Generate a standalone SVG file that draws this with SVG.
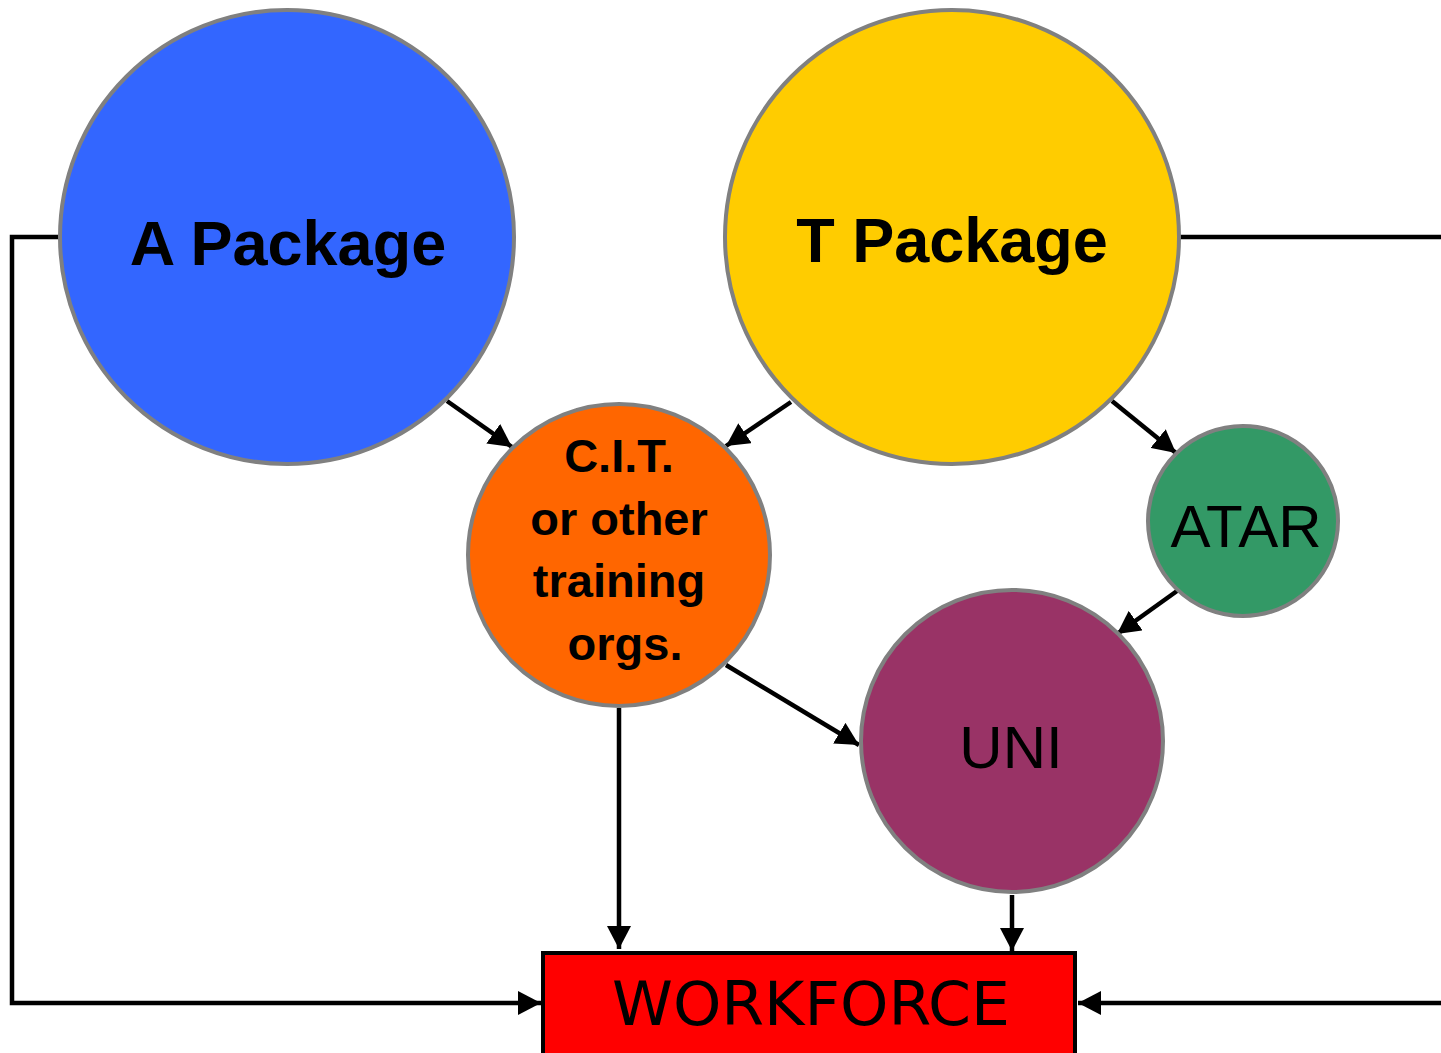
<svg xmlns="http://www.w3.org/2000/svg" width="1441" height="1053" viewBox="0 0 1441 1053">
<defs>
<marker id="ah" markerUnits="userSpaceOnUse" markerWidth="24" markerHeight="24" refX="23" refY="12" orient="auto">
<path d="M0,0 L23,12 L0,24 z" fill="#000"/>
</marker>
<style>
.node{stroke:#808080;stroke-width:4}
.edge{stroke:#000;stroke-width:4.5;fill:none}
.arr{marker-end:url(#ah)}
.big{font-family:"Liberation Sans",Arial,sans-serif;font-weight:bold;font-size:63px;text-anchor:middle;fill:#000}
.mid{font-family:"Liberation Sans",Arial,sans-serif;font-weight:bold;font-size:47px;text-anchor:middle;fill:#000}
.reg{font-family:"Liberation Sans",Arial,sans-serif;font-size:60px;text-anchor:middle;fill:#000}
.wf{font-family:"Comic Sans MS","DejaVu Sans",sans-serif;font-size:60px;text-anchor:middle;fill:#000}
</style>
</defs>
<rect width="1441" height="1053" fill="#fff"/>
<g id="connectors">
<path class="edge arr" d="M60,237 H12 V1003 H541"/>
<path class="edge" d="M1179,237 H1441"/>
<path class="edge arr" d="M1441,1003 H1078"/>
<line class="edge arr" x1="447" y1="401" x2="512" y2="447"/>
<line class="edge arr" x1="791" y1="402" x2="726" y2="446"/>
<line class="edge arr" x1="1112" y1="401" x2="1176" y2="453"/>
<line class="edge arr" x1="1177" y1="591" x2="1117" y2="634"/>
<line class="edge arr" x1="726" y1="665" x2="859" y2="745"/>
<line class="edge arr" x1="619" y1="708" x2="619" y2="949"/>
<line class="edge arr" x1="1012" y1="895" x2="1012" y2="951"/>
</g>
<g id="a-package">
<circle class="node" cx="287" cy="237" r="227" fill="#3366FF"/>
<text class="big" x="288" y="265">A Package</text>
</g>
<g id="t-package">
<circle class="node" cx="952" cy="237" r="227" fill="#FFCC00"/>
<text class="big" x="952" y="262">T Package</text>
</g>
<g id="cit">
<circle class="node" cx="619" cy="555" r="151" fill="#FF6600"/>
<text class="mid" x="619" y="472">C.I.T.</text>
<text class="mid" x="619" y="535">or other</text>
<text class="mid" x="619" y="597">training</text>
<text class="mid" x="625" y="660">orgs.</text>
</g>
<g id="atar">
<circle class="node" cx="1243" cy="521" r="95" fill="#339966"/>
<text class="reg" x="1246" y="547" font-size="61">ATAR</text>
</g>
<g id="uni">
<circle class="node" cx="1012" cy="741" r="151" fill="#993366"/>
<text class="reg" x="1011" y="768" font-size="61">UNI</text>
</g>
<g id="workforce">
<rect x="543" y="953" width="532" height="102" fill="#FF0000" stroke="#000" stroke-width="4"/>
<text class="wf" x="811" y="1025" textLength="398" lengthAdjust="spacingAndGlyphs">WORKFORCE</text>
</g>
</svg>
